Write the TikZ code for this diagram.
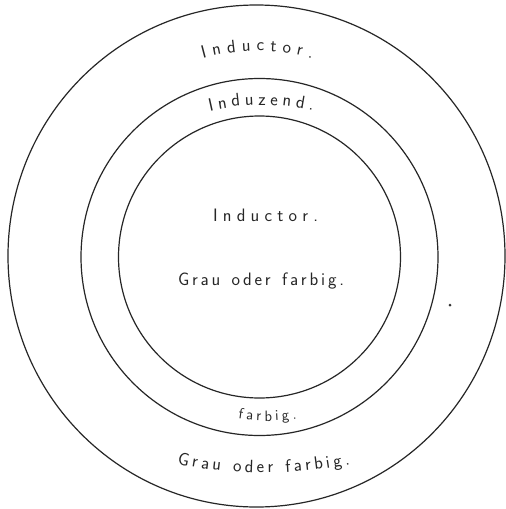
\documentclass[tikz,border=0pt]{standalone}
\usepackage{fontspec}
\usetikzlibrary{decorations.text}
\begin{document}
\begin{tikzpicture}[x=1pt,y=1pt,
  ring/.style={draw=black!85, line width=1.2pt},
  arclab/.style={decorate, decoration={text along path, text align=fit to path, text color=black!85,
     text={|\fontsize{18}{21}\selectfont\sffamily|#1}}},
  smallarclab/.style={decorate, decoration={text along path, text align=fit to path, text color=black!85,
     text={|\fontsize{15}{18}\selectfont\sffamily|#1}}}
]
\useasboundingbox (0,0) rectangle (506,-509);
\fill[white] (0,0) rectangle (506,-509);
% circle centres
\coordinate (co) at (256.5,-256);
\coordinate (cm) at (259.5,-257);
\coordinate (ci) at (259.5,-257);
\draw[ring] (co) ellipse[x radius=248.5, y radius=251];
\draw[ring] (cm) circle (178.5);
\draw[ring] (ci) circle (141);
% dot
\coordinate (dot) at (450,-305);
\fill[black!80] (dot) circle (1.5);
% arc text centres
\coordinate (t1) at (257,-256);
\coordinate (t2) at (262,-333);
\coordinate (t3) at (267,-221);
\coordinate (t4) at (264,-48);
\path[arclab={Inductor.}] ([shift={(105.3:205)}]t1) arc[start angle=105.3, end angle=74.4, radius=205];
\path[arclab={Induzend.}] ([shift={(103.2:228)}]t2) arc[start angle=103.2, end angle=77.1, radius=228];
\path[smallarclab={farbig.}] ([shift={(261.7:200)}]t3) arc[start angle=261.7, end angle=278.6, radius=200];
\path[arclab={Grau oder farbig.}] ([shift={(258.2:425)}]t4) arc[start angle=258.2, end angle=281.7, radius=425];
% centre texts, on straight base lines
\coordinate (indL) at (213,-221);
\coordinate (indR) at (318,-221);
\coordinate (grL) at (178,-285);
\coordinate (grR) at (344,-285);
\path[arclab={Inductor.}] (indL) -- (indR);
\path[arclab={Grau oder farbig.}] (grL) -- (grR);
\end{tikzpicture}
\end{document}
